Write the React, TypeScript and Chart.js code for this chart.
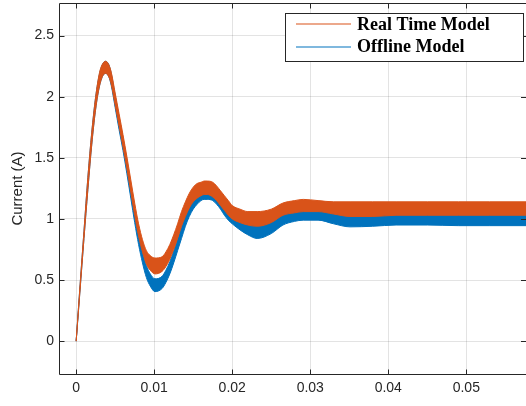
import { useEffect, useRef } from 'react';
import { Chart, registerables } from 'chart.js';

Chart.register(...registerables);

// ---- data ----
const time = [
  0, 0.0005, 0.001, 0.0015, 0.002, 0.0025, 0.003, 0.0035, 0.0038, 0.0042,
  0.0045, 0.005, 0.0055, 0.006, 0.0065, 0.007, 0.0075, 0.008, 0.0085, 0.009,
  0.0095, 0.0101, 0.011, 0.0115, 0.012, 0.0125, 0.013, 0.0135, 0.014, 0.0145,
  0.015, 0.0155, 0.016, 0.0164, 0.0168, 0.0175, 0.018, 0.0185, 0.019, 0.0195,
  0.02, 0.021, 0.022, 0.0232, 0.025, 0.0265, 0.028, 0.0291, 0.031, 0.033,
  0.0351, 0.038, 0.041, 0.045, 0.049, 0.053, 0.0578,
];

const realTimeUpper = [
  0, 0.46, 0.9, 1.34, 1.71, 2.0, 2.2, 2.28, 2.29, 2.26,
  2.2, 2.03, 1.86, 1.69, 1.51, 1.32, 1.13, 0.96, 0.83, 0.74,
  0.7, 0.68, 0.69, 0.73, 0.79, 0.87, 0.96, 1.06, 1.14, 1.21,
  1.26, 1.29, 1.3, 1.31, 1.31, 1.3, 1.27, 1.23, 1.19, 1.15,
  1.11, 1.08, 1.06, 1.06, 1.08, 1.13, 1.15, 1.16, 1.15, 1.14,
  1.14, 1.14, 1.14, 1.14, 1.14, 1.14, 1.14,
];

const realTimeLower = [
  0, 0.42, 0.84, 1.24, 1.61, 1.9, 2.09, 2.18, 2.19, 2.16,
  2.1, 1.93, 1.76, 1.59, 1.41, 1.22, 1.03, 0.86, 0.73, 0.63,
  0.58, 0.55, 0.57, 0.61, 0.67, 0.75, 0.84, 0.94, 1.02, 1.09,
  1.14, 1.17, 1.19, 1.2, 1.2, 1.18, 1.15, 1.11, 1.07, 1.03,
  1.0, 0.97, 0.95, 0.94, 0.97, 1.03, 1.05, 1.06, 1.06, 1.04,
  1.02, 1.02, 1.03, 1.03, 1.03, 1.03, 1.03,
];

const offlineUpper = [
  0, 0.46, 0.9, 1.34, 1.71, 2.0, 2.19, 2.28, 2.29, 2.26,
  2.19, 2.01, 1.83, 1.66, 1.47, 1.27, 1.07, 0.89, 0.74, 0.62,
  0.55, 0.51, 0.53, 0.58, 0.65, 0.74, 0.84, 0.94, 1.04, 1.12,
  1.18, 1.22, 1.25, 1.27, 1.27, 1.25, 1.22, 1.18, 1.13, 1.09,
  1.06, 1.01, 0.98, 0.95, 0.99, 1.05, 1.08, 1.1, 1.1, 1.07,
  1.04, 1.05, 1.06, 1.06, 1.05, 1.05, 1.05,
];

const offlineLower = [
  0, 0.42, 0.84, 1.24, 1.61, 1.9, 2.09, 2.18, 2.19, 2.16,
  2.09, 1.91, 1.73, 1.56, 1.37, 1.17, 0.97, 0.79, 0.64, 0.52,
  0.45, 0.405, 0.43, 0.48, 0.55, 0.64, 0.74, 0.84, 0.94, 1.02,
  1.08, 1.12, 1.15, 1.16, 1.16, 1.15, 1.12, 1.08, 1.03, 0.99,
  0.96, 0.91, 0.87, 0.84, 0.88, 0.95, 0.98, 0.99, 0.99, 0.96,
  0.935, 0.94, 0.95, 0.95, 0.945, 0.945, 0.945,
];

const xTicks = [0, 0.01, 0.02, 0.03, 0.04, 0.05];
const yTicks = [0, 0.5, 1, 1.5, 2, 2.5];
const seriesLabels = ['Real Time Model', 'Offline Model'];
const seriesColors = ['#D95319', '#0072BD'];
const yAxisTitle = 'Current (A)';

const X_MIN = -0.0022;
const X_MAX = 0.05765;
const Y_MIN = -0.269;
const Y_MAX = 2.767;

const AXIS_COLOR = '#262626';
const GRID_COLOR = 'rgba(38,38,38,0.13)';
const SANS = '"Liberation Sans", Arial, sans-serif';
const SERIF = '"Liberation Serif", "DejaVu Serif", serif';

const toPoints = (ys: number[]) => time.map((t, i) => ({ x: t, y: ys[i] }));

const framePlugin = {
  id: 'matlabFrame',
  afterDraw(chart: any) {
    const { ctx, chartArea } = chart;
    const { left, right, top, bottom } = chartArea;
    const xs = chart.scales.x;
    const ys = chart.scales.y;
    ctx.save();
    ctx.strokeStyle = AXIS_COLOR;
    ctx.lineWidth = 1;
    ctx.beginPath();
    ctx.moveTo(left + 0.5, bottom + 0.5);
    ctx.lineTo(left + 0.5, top + 0.5);
    ctx.lineTo(right, top + 0.5);
    ctx.moveTo(left + 0.5, bottom + 0.5);
    ctx.lineTo(right, bottom + 0.5);
    const TL = 5;
    xTicks.forEach((v) => {
      const px = Math.round(xs.getPixelForValue(v)) + 0.5;
      ctx.moveTo(px, bottom + 0.5);
      ctx.lineTo(px, bottom + 0.5 - TL);
      ctx.moveTo(px, top + 0.5);
      ctx.lineTo(px, top + 0.5 + TL);
    });
    yTicks.forEach((v) => {
      const py = Math.round(ys.getPixelForValue(v)) + 0.5;
      ctx.moveTo(left + 0.5, py);
      ctx.lineTo(left + 0.5 + TL, py);
      ctx.moveTo(right, py);
      ctx.lineTo(right - TL, py);
    });
    ctx.stroke();

    // legend box
    const bx = 285.5, by = 13.5, bw = 238, bh = 48;
    ctx.fillStyle = '#ffffff';
    ctx.fillRect(bx, by, bw, bh);
    ctx.strokeStyle = AXIS_COLOR;
    ctx.strokeRect(bx, by, bw, bh);
    const rows = [24, 47];
    const baselines = [30, 51.7];
    seriesLabels.forEach((label, i) => {
      ctx.strokeStyle = seriesColors[i];
      ctx.lineWidth = 1.2;
      ctx.beginPath();
      ctx.moveTo(296, rows[i]);
      ctx.lineTo(351, rows[i]);
      ctx.stroke();
      ctx.fillStyle = '#000000';
      ctx.font = 'bold 18px ' + SERIF;
      ctx.textAlign = 'left';
      ctx.textBaseline = 'alphabetic';
      ctx.fillText(label, 357, baselines[i]);
    });
    ctx.restore();
  },
};

export default function App() {
  const canvasRef = useRef<HTMLCanvasElement | null>(null);

  useEffect(() => {
    document.body.style.margin = '0';
    const canvas = canvasRef.current;
    if (!canvas) return;

    const band = (data: number[], color: string, label: string, fill: any) => ({
      label,
      data: toPoints(data),
      borderColor: color,
      backgroundColor: color,
      borderWidth: 1,
      pointRadius: 0,
      tension: 0,
      cubicInterpolationMode: 'monotone' as const,
      fill,
    });

    const chart = new Chart(canvas, {
      type: 'line',
      data: {
        datasets: [
          band(realTimeUpper, seriesColors[0], seriesLabels[0], '+1'),
          band(realTimeLower, seriesColors[0], seriesLabels[0] + ' (lower)', false),
          band(offlineUpper, seriesColors[1], seriesLabels[1], '+1'),
          band(offlineLower, seriesColors[1], seriesLabels[1] + ' (lower)', false),
        ],
      },
      options: {
        animation: false,
        responsive: false,
        events: [],
        layout: { padding: { left: 0, right: 0, top: 3, bottom: 0 } },
        plugins: {
          legend: { display: false },
          tooltip: { enabled: false },
          filler: { propagate: false },
        },
        scales: {
          x: {
            type: 'linear',
            min: X_MIN,
            max: X_MAX,
            afterBuildTicks: (scale: any) => {
              scale.ticks = xTicks.map((v) => ({ value: v }));
            },
            afterFit: (scale: any) => {
              scale.height = 32;
              scale.paddingLeft = 0;
              scale.paddingRight = 0;
            },
            border: { display: false },
            grid: { color: GRID_COLOR, lineWidth: 1, drawTicks: false },
            ticks: {
              padding: 6,
              color: AXIS_COLOR,
              font: { family: SANS, size: 14 },
              maxRotation: 0,
              autoSkip: false,
              callback: (v: any) => String(v),
            },
          },
          y: {
            type: 'linear',
            min: Y_MIN,
            max: Y_MAX,
            afterBuildTicks: (scale: any) => {
              scale.ticks = yTicks.map((v) => ({ value: v }));
            },
            afterFit: (scale: any) => {
              scale.width = 59;
              scale.paddingTop = 0;
              scale.paddingBottom = 0;
            },
            border: { display: false },
            grid: { color: GRID_COLOR, lineWidth: 1, drawTicks: false },
            ticks: {
              padding: 5,
              color: AXIS_COLOR,
              font: { family: SANS, size: 14 },
              autoSkip: false,
              callback: (v: any) => String(v),
            },
            title: {
              display: true,
              text: yAxisTitle,
              color: AXIS_COLOR,
              font: { family: SANS, size: 15 },
              padding: { top: 9, bottom: 0 },
            },
          },
        },
      },
      plugins: [framePlugin],
    });

    return () => {
      chart.destroy();
    };
  }, []);

  return (
    <div style={{ position: 'absolute', left: 0, top: 0, width: 526, height: 406 }}>
      <canvas ref={canvasRef} width={526} height={406} />
    </div>
  );
}
